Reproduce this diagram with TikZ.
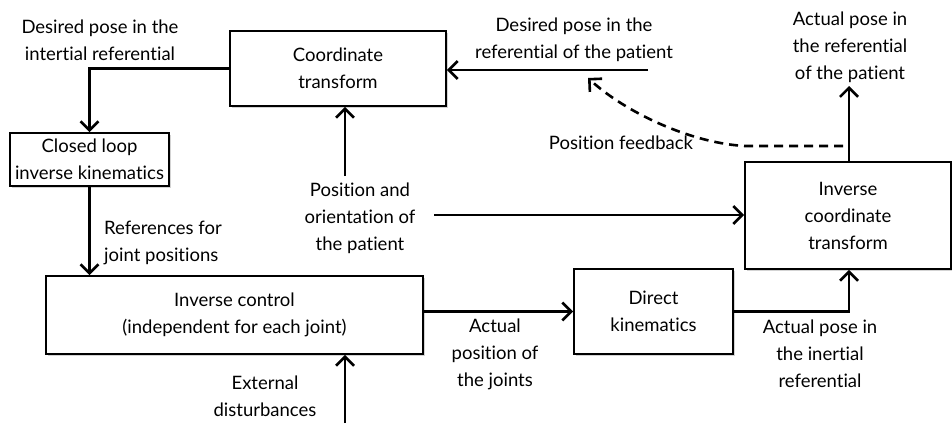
\documentclass[tikz,border=0pt]{standalone}
\usepackage{fontspec}
\setmainfont{Lato}[Ligatures={NoCommon}]
\usetikzlibrary{arrows.meta,shadows}
\begin{document}
\begin{tikzpicture}[x=1pt,y=-1pt,
  every node/.style={font=\fontsize{18.5}{27}\selectfont, align=center, inner sep=0pt},
  blk/.style={draw, line width=1.8pt, fill=white, drop shadow={opacity=0.35, shadow xshift=1.5pt, shadow yshift=-1.5pt}},
  arr/.style={line width=2.6pt, -{Straight Barb[length=9pt,width=18pt,line width=2.6pt]}},
  fbk/.style={arr, dash pattern=on 9pt off 6pt}]
\useasboundingbox (0,0) rectangle (952,423);
% blocks
\node[blk, minimum width=216pt, minimum height=75pt] (ct) at (338,68.5) {Coordinate\\transform};
\node[blk, minimum width=159pt, minimum height=53pt] (cl) at (89.5,159.5) {Closed loop\\inverse kinematics};
\node[blk, minimum width=377pt, minimum height=78pt] (ic) at (234.5,315) {Inverse control\\(independent for each joint)};
\node[blk, minimum width=159pt, minimum height=85pt] (dk) at (653.5,311.5) {Direct\\kinematics};
\node[blk, minimum width=206pt, minimum height=107pt] (ict) at (848,215.5) {Inverse\\coordinate\\transform};
% labels
\node (l1) at (100,40) {Desired pose in the\\intertial referential};
\node (l2) at (574,40) {Desired pose in the\\referential of the patient};
\node (l3) at (850,47) {Actual pose in\\the referential\\of the patient};
\node (l4) at (621,143) {Position feedback};
\node (l5) at (104,242.5) [anchor=west, align=left] {References for\\joint positions};
\node (l6) at (360,218) {Position and\\orientation of\\the patient};
\node (l7) at (495,354) {Actual\\position of\\the joints};
\node (l8) at (820,354) {Actual pose in\\the inertial\\referential};
\node (l9) at (265,396.5) {External\\disturbances};
% connectors
\coordinate (p1) at (345,176);
\coordinate (p2) at (434,215);
\coordinate (apt) at (849,86);
\coordinate (dp) at (648,70);
\coordinate (fb1) at (843,146);
\coordinate (fb2) at (588,78);
\coordinate (ed) at (345,423);
\draw[arr] (ct.west) -- (ct.west -| cl.north) -- (cl.north);
\draw[arr] (cl.south) -- (cl.south |- ic.north);
\draw[arr] (p1) -- (p1 |- ct.south);
\draw[arr] (p2) -- (p2 -| ict.west);
\draw[arr] (ic.east |- dk.west) -- (dk.west);
\draw[arr] (dk.east) -- (dk.east -| apt) -- (apt |- ict.south);
\draw[arr] (apt |- ict.north) -- (apt);
\draw[arr] (dp) -- (dp -| ct.east);
\draw[fbk] (fb1) -- (745,146) .. controls (690,143) and (625,112) .. (fb2);
\draw[arr] (ed) -- (ed |- ic.south);
\end{tikzpicture}
\end{document}
